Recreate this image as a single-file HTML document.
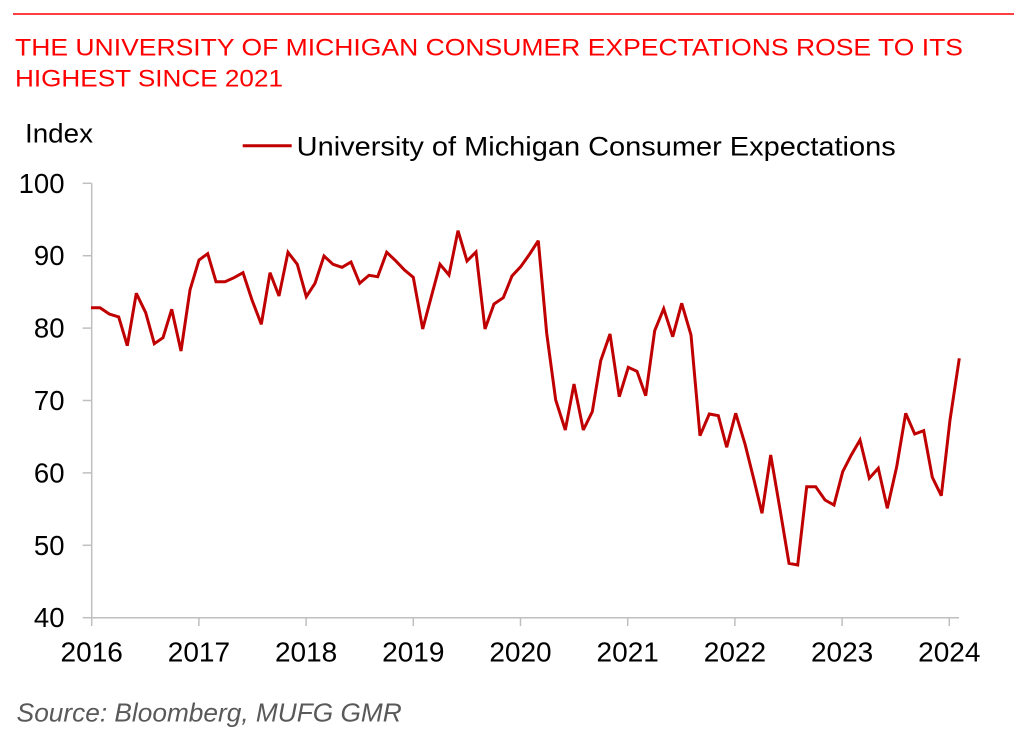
<!DOCTYPE html>
<html>
<head>
<meta charset="utf-8">
<style>
html,body{margin:0;padding:0;background:#fff;}
svg{display:block;}
text{font-family:"Liberation Sans",Arial,sans-serif;}
</style>
</head>
<body>
<svg width="1022" height="737" viewBox="0 0 1022 737" xmlns="http://www.w3.org/2000/svg">
<rect width="1022" height="737" fill="#fff"/>
<line x1="13" y1="14" x2="1014" y2="14" stroke="#FF0000" stroke-width="1.5"/>
<text x="15" y="55.3" font-size="24.5" fill="#FF0000" textLength="948" lengthAdjust="spacingAndGlyphs">THE UNIVERSITY OF MICHIGAN CONSUMER EXPECTATIONS ROSE TO ITS</text>
<text x="15" y="86.7" font-size="24.5" fill="#FF0000" textLength="268" lengthAdjust="spacingAndGlyphs">HIGHEST SINCE 2021</text>

<text x="25" y="142.7" font-size="27" fill="#000" textLength="68" lengthAdjust="spacingAndGlyphs">Index</text>

<line x1="242.7" y1="145.7" x2="291.7" y2="145.7" stroke="#C00000" stroke-width="3"/>
<text x="296.7" y="155.3" font-size="27" fill="#000" textLength="599" lengthAdjust="spacingAndGlyphs">University of Michigan Consumer Expectations</text>

<!-- axes -->
<g stroke="#BFBFBF" stroke-width="1.5" fill="none">
<line x1="91.7" y1="183.3" x2="91.7" y2="617.7"/>
<line x1="91.7" y1="617.7" x2="959" y2="617.7"/>
<line x1="82.7" y1="183.3" x2="91.7" y2="183.3"/>
<line x1="82.7" y1="255.7" x2="91.7" y2="255.7"/>
<line x1="82.7" y1="328.1" x2="91.7" y2="328.1"/>
<line x1="82.7" y1="400.5" x2="91.7" y2="400.5"/>
<line x1="82.7" y1="472.9" x2="91.7" y2="472.9"/>
<line x1="82.7" y1="545.3" x2="91.7" y2="545.3"/>
<line x1="82.7" y1="617.7" x2="91.7" y2="617.7"/>
<line x1="91.7" y1="617.7" x2="91.7" y2="626"/>
<line x1="198.9" y1="617.7" x2="198.9" y2="626"/>
<line x1="306.1" y1="617.7" x2="306.1" y2="626"/>
<line x1="413.3" y1="617.7" x2="413.3" y2="626"/>
<line x1="520.5" y1="617.7" x2="520.5" y2="626"/>
<line x1="627.7" y1="617.7" x2="627.7" y2="626"/>
<line x1="734.9" y1="617.7" x2="734.9" y2="626"/>
<line x1="842.1" y1="617.7" x2="842.1" y2="626"/>
<line x1="949.3" y1="617.7" x2="949.3" y2="626"/>
</g>

<g font-size="27.5" fill="#000" text-anchor="end">
<text x="64.5" y="192.8">100</text>
<text x="64.5" y="265.2">90</text>
<text x="64.5" y="337.6">80</text>
<text x="64.5" y="410">70</text>
<text x="64.5" y="482.4">60</text>
<text x="64.5" y="554.8">50</text>
<text x="64.5" y="627.2">40</text>
</g>

<g font-size="28" fill="#000" text-anchor="middle">
<text x="91.7" y="661.7">2016</text>
<text x="198.9" y="661.7">2017</text>
<text x="306.1" y="661.7">2018</text>
<text x="413.3" y="661.7">2019</text>
<text x="520.5" y="661.7">2020</text>
<text x="627.7" y="661.7">2021</text>
<text x="734.9" y="661.7">2022</text>
<text x="842.1" y="661.7">2023</text>
<text x="949.3" y="661.7">2024</text>
</g>

<polyline fill="none" stroke="#C00000" stroke-width="3" stroke-linejoin="miter" stroke-miterlimit="3" points="91,307.7 100,307.7 109.3,314 118.7,317 127.3,345.7 136.3,293.3 145.7,312.7 154.3,343.7 163,337.7 171.7,309.3 181,351 190,290 199,260 207.7,253.7 216,281.7 225,281.7 234,277.7 243,272.7 252,300 261.3,324.3 270,272.7 279,296 288,252.3 297.3,264.3 306.3,296.7 315,283.3 324,256 333,264.3 342,267.3 351,262 359.7,283.3 369,275.3 377.7,276.7 386.7,252.3 395.6,260.7 404.5,270 413.3,277.3 422.7,329 431.3,296.7 440,264.3 449,275 458,230.7 467,261 476,252 485,329 494,304 503.3,297.7 512,276 520.7,266.7 529.7,254 538.3,240.7 546.7,333.3 555.7,400 565.3,430 574,384 583.3,430 592.3,411.7 600.7,360.7 610,334 619.3,396.7 628.3,367.3 637,371.3 645.7,395.7 654.7,330.7 663.7,308.7 672.7,336.7 681.7,303.3 691,335 700,435.7 709.3,414 718.3,415.7 726.7,447.3 735.7,413.3 745,444 754,480 762,513.3 770.7,455 780,509.3 789,563.3 797.7,565 806.7,486.7 815.7,486.7 825,500 834,505 842.7,471.7 851.3,455 860,440 869.3,478.3 878.3,468.3 887.3,508.3 896.7,466.7 905.7,413.3 914.7,434 923.7,430.7 932.3,477.3 941.3,495.7 950,420 959.3,358.3"/>

<text x="16.7" y="721.7" font-size="26" font-style="italic" fill="#595959" textLength="385" lengthAdjust="spacingAndGlyphs">Source: Bloomberg, MUFG GMR</text>
</svg>
</body>
</html>
